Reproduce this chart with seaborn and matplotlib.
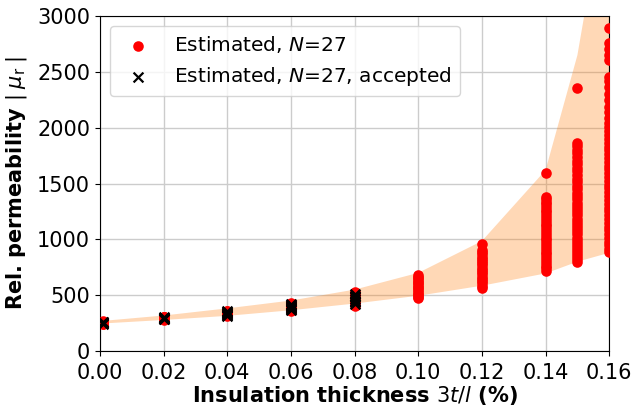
import numpy as np
import pandas as pd
import matplotlib
matplotlib.use("Agg")
import matplotlib.pyplot as plt
import seaborn as sns

# ---- data ----
thickness = [0.001, 0.02, 0.04, 0.06, 0.08, 0.10, 0.12, 0.14, 0.15, 0.16]

est_000 = [243, 246, 248, 250, 252, 254, 255, 257, 259, 261, 263, 266]
est_002 = [282, 285, 287, 290, 292, 294, 297, 299, 301, 303, 306, 309]
est_004 = [314, 319, 324, 328, 332, 336, 339, 343, 347, 351, 356, 361]
est_006 = [357, 364, 371, 377, 384, 389, 395, 401, 408, 414, 421, 429]
est_008 = [407, 419, 431, 443, 454, 464, 474, 486, 496, 506, 516, 529]
est_010 = [471, 486, 499, 514, 531, 544, 561, 574, 589, 606, 619, 636, 651, 664, 679]
est_012 = [566, 584, 606, 624, 646, 664, 686, 704, 726, 744, 766, 784, 806,
           826, 844, 866, 884, 903, 962]
est_014 = [716, 741, 764, 791, 814, 841, 866, 889, 916, 939, 966, 991, 1014,
           1041, 1064, 1091, 1116, 1139, 1166, 1189, 1216, 1241, 1264, 1291,
           1316, 1339, 1362, 1381, 1590]
est_015 = [793, 821, 848, 876, 904, 931, 961, 988, 1016, 1044, 1071, 1099,
           1131, 1158, 1186, 1214, 1243, 1271, 1302, 1329, 1358, 1391, 1418,
           1451, 1479, 1512, 1543, 1576, 1608, 1641, 1673, 1706, 1738, 1771,
           1802, 1833, 1862, 2358]
est_016 = [884, 912, 946, 978, 1012, 1047, 1081, 1113, 1148, 1182, 1216,
           1251, 1284, 1318, 1352, 1386, 1421, 1456, 1488, 1522, 1557, 1591,
           1626, 1659, 1693, 1728, 1762, 1796, 1831, 1864, 1899, 1933, 1968,
           2004, 2045, 2090, 2138, 2186, 2252, 2305, 2361, 2418, 2458, 2606,
           2652, 2704, 2758, 2893]

acc_000 = [245, 249, 253, 257, 262]
acc_002 = [285, 290, 295, 300, 305]
acc_004 = [318, 326, 333, 340, 348, 355]
acc_006 = [366, 376, 386, 396, 405, 414, 422]
acc_008 = [421, 436, 451, 466, 480, 495, 511]

band_lower = [247, 278, 315, 365, 425, 495, 585, 695, 800, 880]
band_upper = [270, 318, 382, 452, 550, 700, 985, 1620, 2650, 4300]

est_lists = [est_000, est_002, est_004, est_006, est_008,
             est_010, est_012, est_014, est_015, est_016]
acc_lists = [acc_000, acc_002, acc_004, acc_006, acc_008]

est_df = pd.DataFrame({
    "x": [t for t, vals in zip(thickness, est_lists) for _ in vals],
    "mu": [v for vals in est_lists for v in vals],
})
acc_df = pd.DataFrame({
    "x": [t for t, vals in zip(thickness, acc_lists) for _ in vals],
    "mu": [v for vals in acc_lists for v in vals],
})

# ---- plot ----
plt.rcParams["font.family"] = ["DejaVu Sans"]
fig, ax = plt.subplots(figsize=(6.32, 4.12), dpi=100)
fig.subplots_adjust(left=0.158, right=0.964, bottom=0.148, top=0.961)

ax.fill_between(thickness, band_lower, band_upper, color="C1", alpha=0.3,
                linewidth=0, zorder=1)

sns.scatterplot(data=est_df, x="x", y="mu", ax=ax, color="red", s=58,
                linewidth=0, marker="o", label=r"Estimated, $N$=27", zorder=3,
                clip_on=True)
sns.scatterplot(data=acc_df, x="x", y="mu", ax=ax, color="black", s=50,
                linewidth=1.6, marker="x", label=r"Estimated, $N$=27, accepted",
                zorder=4, clip_on=True)

ax.set_xlim(0, 0.16)
ax.set_ylim(0, 3000)
ax.set_xticks(np.arange(0, 0.161, 0.02))
ax.set_xticklabels([f"{v:.2f}" for v in np.arange(0, 0.161, 0.02)])
ax.set_yticks(range(0, 3001, 500))
ax.tick_params(labelsize=15)
ax.tick_params(axis="x", pad=5)
ax.grid(True, color="#cccccc", linewidth=1.0, zorder=0)
ax.set_axisbelow(True)

ax.set_xlabel(r"Insulation thickness $3t/l$ (%)", fontsize=15,
              fontweight="bold", labelpad=1)
ax.set_ylabel(r"Rel. permeability $|\;\mu_\mathrm{r}\;|$", fontsize=15,
              fontweight="bold", labelpad=6)

leg = ax.legend(loc="upper left", fontsize=14.5, handletextpad=0.8,
                borderpad=0.4, framealpha=0.8)

fig.savefig("out.png", dpi=100)
